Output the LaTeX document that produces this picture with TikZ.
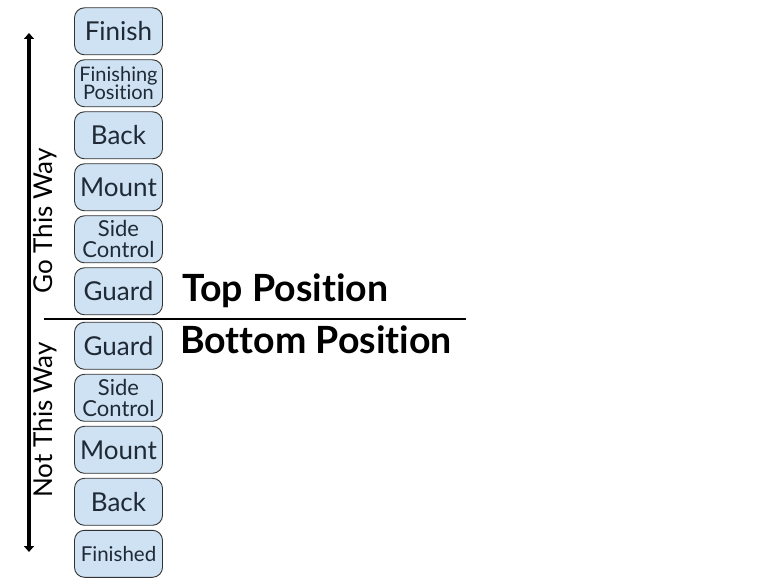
\documentclass[tikz,border=0pt]{standalone}
\usepackage{fontspec}
\setmainfont{Lato}[Ligatures=NoCommon]
\usetikzlibrary{arrows.meta}
\definecolor{boxblue}{HTML}{CFE2F3}
\definecolor{boxedge}{HTML}{333333}
\definecolor{txt}{HTML}{1F2A36}
\begin{document}
\begin{tikzpicture}[x=1pt,y=-1pt,
  posbox/.style={draw=boxedge, fill=boxblue, line width=0.9pt, rounded corners=10pt,
    minimum width=88pt, minimum height=47pt, inner sep=0pt, align=center, text=txt,
    font=\fontsize{26}{28}\selectfont},
  twoline/.style={font=\fontsize{22}{21}\selectfont},
  smallline/.style={font=\fontsize{20}{18.5}\selectfont},
  header/.style={font=\bfseries\fontsize{37.5}{40}\selectfont, anchor=base west, inner sep=0pt, text=black},
  sidelabel/.style={rotate=90, font=\fontsize{26}{28}\selectfont, inner sep=0pt, text=black}]
\useasboundingbox (0,0) rectangle (780,585);
\fill[white] (0,0) rectangle (780,585);
% top boxes
\node[posbox] (finish) at (118.5,31.3) {Finish};
\node[posbox, smallline] (finpos) at (118.5,83.3) {Finishing\\Position};
\node[posbox] (backt) at (118.5,135.3) {Back};
\node[posbox] (mountt) at (118.5,187.3) {Mount};
\node[posbox, twoline] (sidet) at (118.5,239.3) {Side\\Control};
\node[posbox] (guardt) at (118.5,291.3) {Guard};
% bottom boxes
\node[posbox] (guardb) at (118.5,345.8) {Guard};
\node[posbox, twoline] (sideb) at (118.5,397.8) {Side\\Control};
\node[posbox] (mountb) at (118.5,449.8) {Mount};
\node[posbox] (backb) at (118.5,501.8) {Back};
\node[posbox, font=\fontsize{20.5}{22}\selectfont] (finished) at (118.5,553.8) {Finished};
% divider
\coordinate (divl) at (44,319);
\coordinate (divr) at (466,319);
\draw[line width=1.2pt] (divl) -- (divr);
% headers
\node[header] (toppos) at (182,302) {Top Position};
\node[header] (botpos) at (180,354) {Bottom Position};
% arrow
\coordinate (arrtop) at (29,33);
\coordinate (arrbot) at (29,552);
\draw[line width=3.2pt, {Triangle[length=6pt,width=10pt]}-{Triangle[length=6pt,width=10pt]}] (arrtop) -- (arrbot);
% side labels
\node[sidelabel] (goway) at (45,221) {Go This Way};
\node[sidelabel] (notway) at (45,420) {Not This Way};
\end{tikzpicture}
\end{document}
